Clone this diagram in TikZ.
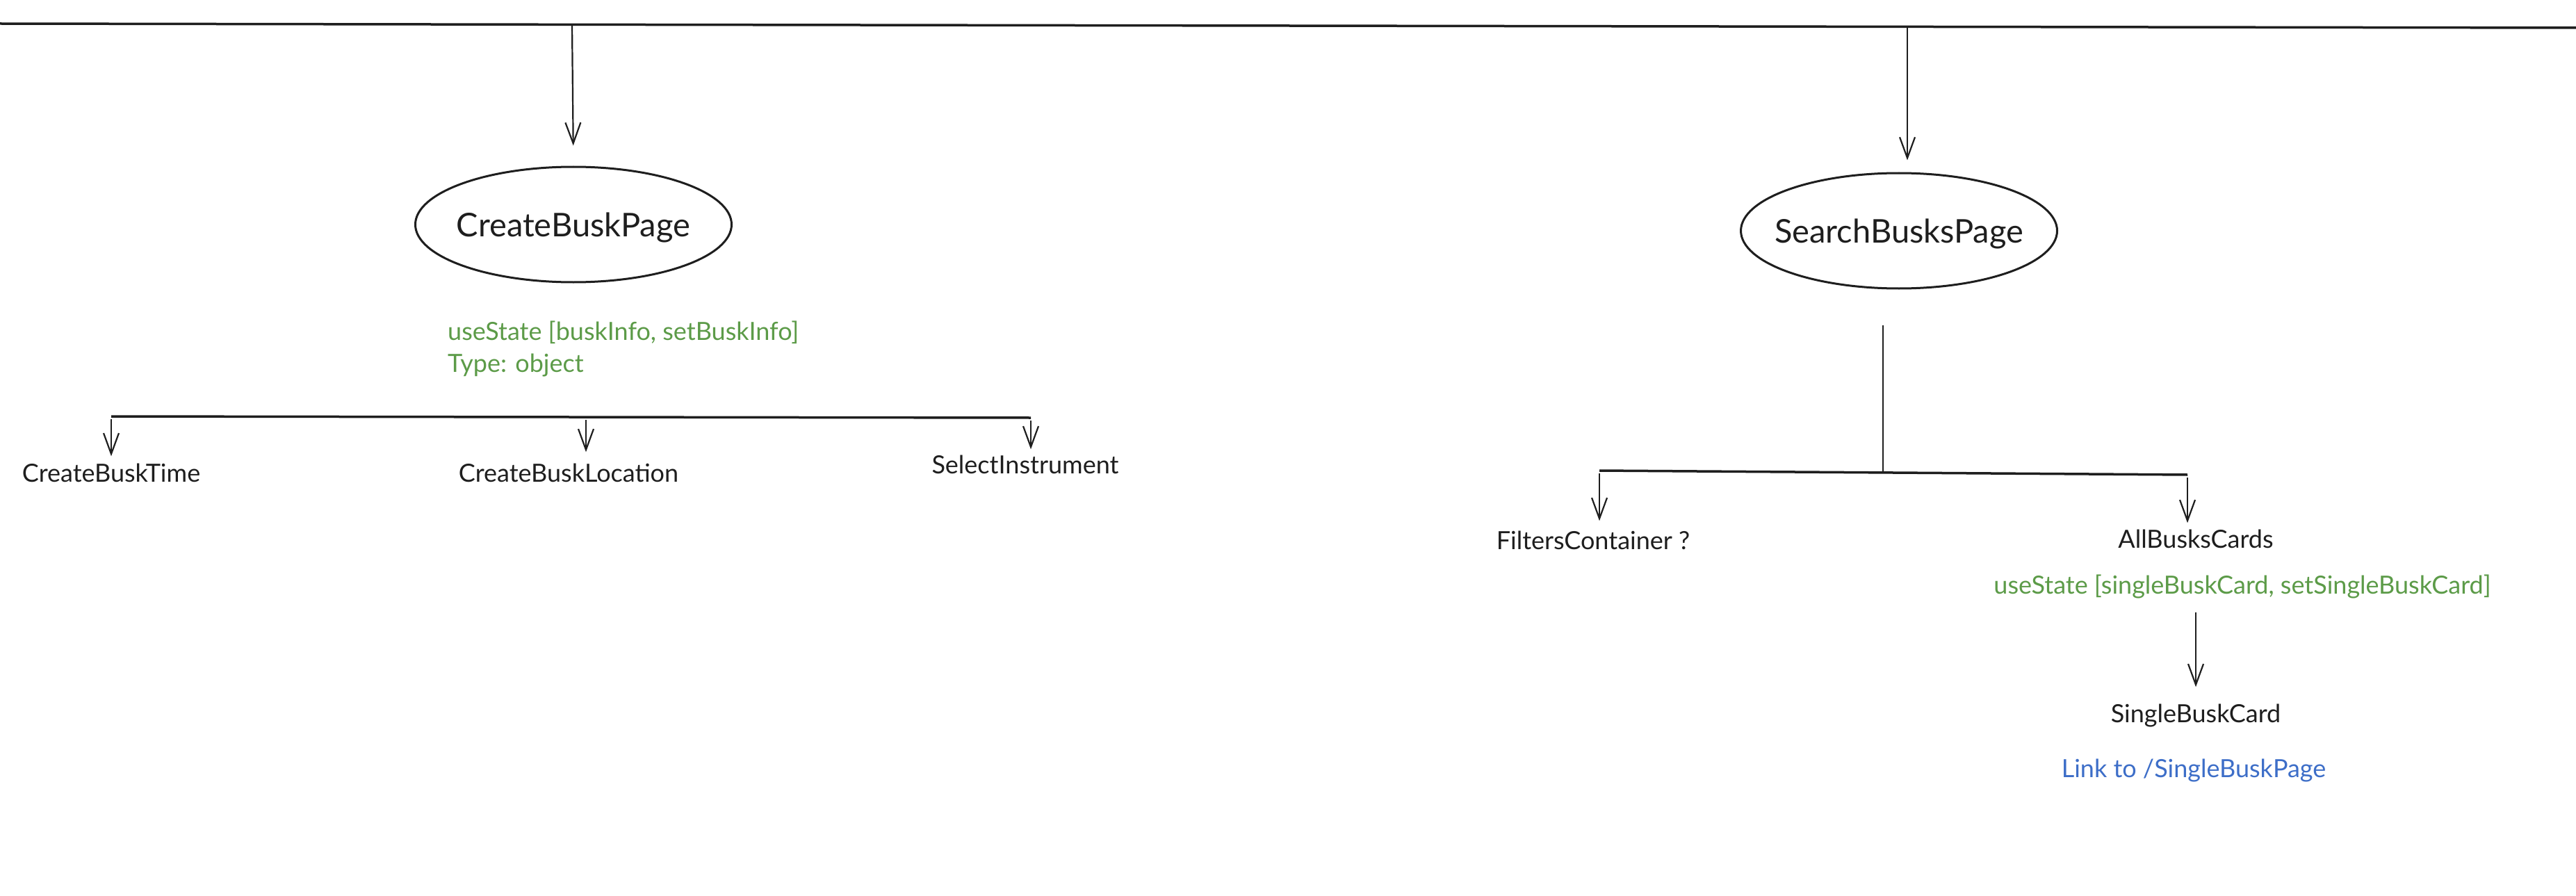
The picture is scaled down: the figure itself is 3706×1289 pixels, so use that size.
\documentclass[tikz,border=0pt]{standalone}
\usepackage{fontspec}
\setmainfont{Lato}
\usetikzlibrary{arrows.meta,shapes.geometric}
\definecolor{ink}{RGB}{30,30,30}
\definecolor{stategreen}{RGB}{92,155,72}
\definecolor{linkblue}{RGB}{61,110,200}
\begin{document}
\begin{tikzpicture}[x=1pt,y=-1pt,
  bar/.style={draw=ink, line width=3.5pt},
  conn/.style={draw=ink, line width=2.2pt, -{Straight Barb[length=30pt,width=22pt,line width=2.2pt]}},
  plain/.style={draw=ink, line width=2pt},
  page/.style={ellipse, draw=ink, line width=3pt, inner sep=0pt, minimum width=455pt, minimum height=166pt},
  pagetext/.style={inner sep=0pt, text depth=0pt, text=ink, font=\fontsize{47}{56}\selectfont},
  comp/.style={inner sep=0pt, text=ink, font=\fontsize{36}{43}\selectfont, anchor=base},
  statetext/.style={inner sep=0pt, text=stategreen, font=\fontsize{36}{43}\selectfont},
  linktext/.style={inner sep=0pt, text=linkblue, font=\fontsize{36}{43}\selectfont, anchor=base}
]
\useasboundingbox (0,0) rectangle (3706,1289);
\fill[white] (0,0) rectangle (3706,1289);

% top line
\coordinate (tl) at (0,34);
\coordinate (tr) at (3706,40);
\draw[bar] (tl) -- (tr);
\coordinate (t1) at (823,36);
\coordinate (t2) at (2744,38);

% pages
\node[page, label={[pagetext]center:CreateBuskPage}] (cbp) at (825,323) {};
\node[page, label={[pagetext]center:SearchBusksPage}] (sbp) at (2732,332) {};

\draw[conn, shorten >=29pt] (t1) -- (cbp.north);
\draw[conn, shorten >=17pt] (t2) -- ([xshift=12pt]sbp.north);

% left state text
\node[statetext, anchor=base west] (st1) at (644,489) {useState [buskInfo, setBuskInfo]};
\node[statetext, anchor=base west] (st1b) at (644,535) {Type: object};

% left bar
\coordinate (lb1) at (160,599);
\coordinate (lb2) at (843,600);
\coordinate (lb3) at (1483,601);
\draw[bar] (lb1) -- (lb3);

\node[comp] (cbt) at (160,693) {CreateBuskTime};
\node[comp] (cbl) at (818,693) {CreateBuskLocation};
\node[comp] (si) at (1475,681) {SelectInstrument};

\draw[conn, shorten >=10pt] ([yshift=-4pt]lb1) -- (lb1 |- cbt.north);
\draw[conn, shorten >=16pt] ([yshift=-4pt]lb2) -- (lb2 |- cbl.north);
\draw[conn, shorten >=8pt] ([yshift=-4pt]lb3) -- (lb3 |- si.north);

% right side
\coordinate (rj) at (2709,679);
\coordinate (rb1) at (2301,677);
\coordinate (rb2) at (3147,683);
\draw[plain, shorten <=51pt] (sbp.south -| rj) -- (rj);
\draw[bar] (rb1) -- (rb2);

\node[comp] (fc) at (2292,790) {FiltersContainer ?};
\node[comp] (abc) at (3159,788) {AllBusksCards};
\node[statetext, anchor=base] (st2) at (3226,854) {useState [singleBuskCard, setSingleBuskCard]};
\node[comp] (sbc) at (3159,1039) {SingleBuskCard};
\node[linktext] (lnk) at (3156,1118) {Link to /SingleBuskPage};

\draw[conn, shorten >=14pt] ([yshift=-4pt]rb1) -- (rb1 |- fc.north);
\draw[conn, shorten >=9pt] ([yshift=-4pt]rb2) -- (rb2 |- abc.north);
\draw[conn, shorten <=20pt, shorten >=24pt] (st2.south -| sbc.north) -- (sbc.north);
\end{tikzpicture}
\end{document}
